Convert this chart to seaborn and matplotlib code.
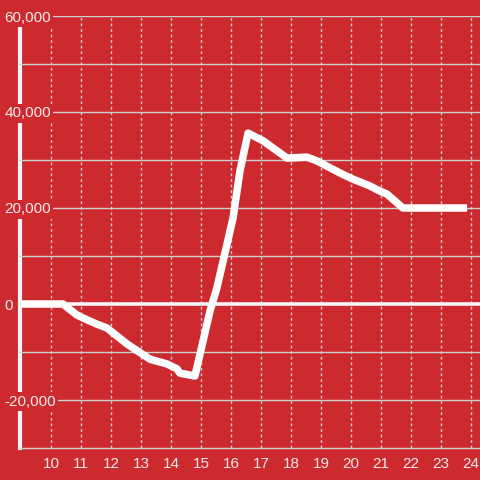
import numpy as np
import pandas as pd
import matplotlib as mpl
mpl.use('Agg')
import matplotlib.pyplot as plt
import seaborn as sns

# values
hours = [9.0, 10.4, 10.87, 11.07, 11.53, 11.87, 12.53, 13.3, 13.87, 14.2, 14.3, 14.8,
         15.3, 15.53, 15.87, 16.07, 16.3, 16.57, 17.07, 17.87, 18.53, 18.87, 19.63,
         20.07, 20.63, 20.97, 21.2, 21.73, 23.87]
values = [0, 0, -2300, -2900, -4200, -5000, -8300, -11500, -12500, -13500, -14400, -15000,
          -1500, 3300, 12500, 17900, 27700, 35600, 34000, 30400, 30600, 29800, 27300,
          26000, 24600, 23500, 22900, 20000, 20000]
x_ticks = list(range(10, 25))
y_ticks = [-20000, 0, 20000, 40000, 60000]
y_minor = [-10000, 10000, 30000, 50000]

bg = '#cc2a2f'
txt = '#f4eaea'
grid = '#cfcfcf'

sns.set_style('white')
plt.rcParams['font.family'] = ['Liberation Sans', 'DejaVu Sans']

df = pd.DataFrame({'hour': hours, 'value': values})

fig = plt.figure(figsize=(4.8, 4.8), dpi=100, facecolor=bg)
ax = fig.add_axes([20/480, 32/480, 460/480, 432/480])
ax.set_facecolor(bg)

sns.lineplot(data=df, x='hour', y='value', ax=ax, color='white', lw=5.4,
             solid_capstyle='butt', zorder=4)

ax.set_xlim(8.97, 24.3)
ax.set_ylim(-30000, 60000)
ax.set_xticks(x_ticks)
ax.set_xticklabels([str(t) for t in x_ticks])
ax.set_yticks(y_ticks)
ax.set_yticklabels([f'{t:,}' for t in y_ticks])
ax.set_yticks(y_minor, minor=True)

ax.grid(axis='y', which='both', color=grid, lw=1, ls='-')
ax.grid(axis='x', which='major', color=grid, lw=1, ls=(0, (2, 2)))
ax.axhline(0, color='#f4f4f4', lw=2.6, zorder=3)

ax.set_xlabel('')
ax.set_ylabel('')
for s in ['top', 'right']:
    ax.spines[s].set_visible(False)
ax.spines['left'].set_color('#f4f4f4')
ax.spines['left'].set_linewidth(3)
ax.spines['left'].set_bounds(-30000, 58300)
ax.spines['left'].set_zorder(1)
ax.spines['bottom'].set_color(grid)
ax.spines['bottom'].set_linewidth(1)

ax.tick_params(axis='both', which='both', length=0, colors=txt, labelsize=11)
ax.tick_params(axis='x', pad=6.5)
ax.tick_params(axis='y', pad=11)
for lbl in ax.get_yticklabels():
    lbl.set_horizontalalignment('left')
    lbl.set_bbox(dict(facecolor=bg, edgecolor='none', pad=1.5))
ax.yaxis.set_zorder(2)

fig.savefig('out.png', dpi=100, facecolor=bg)
